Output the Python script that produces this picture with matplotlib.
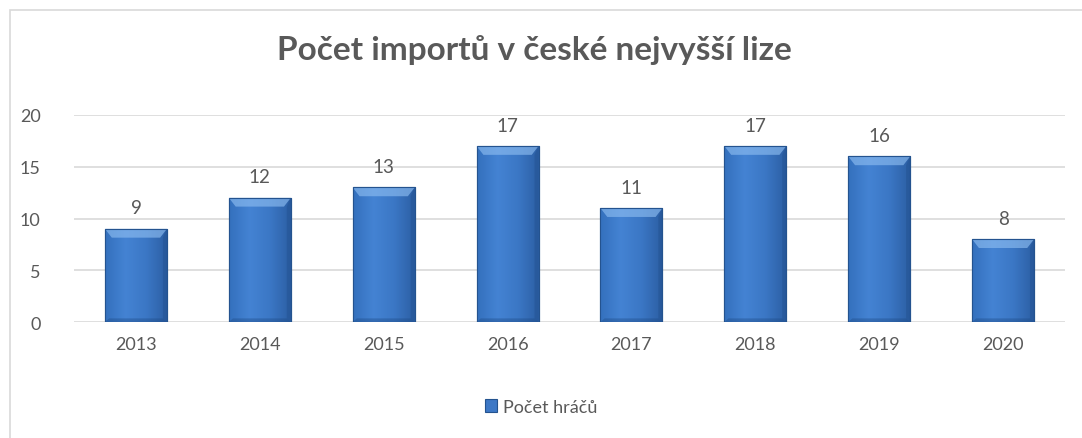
import matplotlib.pyplot as plt
import matplotlib.patches as patches
import numpy as np

years = ["2013", "2014", "2015", "2016", "2017", "2018", "2019", "2020"]
players = [9, 12, 13, 17, 11, 17, 16, 8]

plt.rcParams['font.family'] = ['Lato', 'DejaVu Sans']
grey = "#595959"

fig = plt.figure(figsize=(10.82, 4.39), dpi=100)
ax = fig.add_axes([0.0684, 0.2642, 0.9159, 0.4716])

x = np.arange(len(years))
width = 0.5
bars = ax.bar(x, players, width=width, color="#3d78c6", edgecolor="#24538f",
              linewidth=0.8, zorder=2, label="Počet hráčů")

# horizontal gradient + bevel, like the Excel style
grad = np.linspace(0, 1, 256).reshape(1, -1)
cmap = plt.matplotlib.colors.LinearSegmentedColormap.from_list(
    "b", ["#3470bd", "#4483d3", "#3b77c5", "#2c5fa4"])
for b in bars:
    x0, w, h = b.get_x(), b.get_width(), b.get_height()
    im = ax.imshow(grad, extent=[x0, x0 + w, 0, h], aspect="auto", cmap=cmap, zorder=2.1)
    im.set_clip_path(b)
    bx = w * 0.11
    by = 0.85
    sy = 0.35
    top = patches.Polygon([[x0, h], [x0 + w, h], [x0 + w - bx, h - by], [x0 + bx, h - by]],
                          closed=True, facecolor="#8cbcf0", alpha=0.65, lw=0, zorder=2.2)
    ax.add_patch(top)
    right = patches.Polygon([[x0 + w, h], [x0 + w, 0], [x0 + w - bx * 0.6, sy], [x0 + w - bx * 0.6, h - by]],
                            closed=True, facecolor="#1d4a85", alpha=0.3, lw=0, zorder=2.2)
    ax.add_patch(right)
    bottom = patches.Polygon([[x0, 0], [x0 + w, 0], [x0 + w - bx * 0.6, sy], [x0 + bx * 0.6, sy]],
                             closed=True, facecolor="#1d4a85", alpha=0.4, lw=0, zorder=2.2)
    ax.add_patch(bottom)
    edge = patches.Rectangle((x0, 0), w, h, fill=False, edgecolor="#24538f", lw=0.8, zorder=2.3)
    ax.add_patch(edge)
    ax.text(x0 + w / 2, h + 1.2, str(int(h)), ha="center", va="bottom", fontsize=13.5, color=grey)

ax.set_xlim(-0.5, len(years) - 0.5)
ax.set_ylim(0, 20)
ax.set_yticks([0, 5, 10, 15, 20])
ax.set_xticks(x)
ax.set_xticklabels(years)
ax.tick_params(axis="both", length=0, labelsize=13, labelcolor=grey)
ax.tick_params(axis="y", pad=24)
ax.tick_params(axis="x", pad=10)
ax.grid(axis="y", color="#d9d9d9", linewidth=1.2, zorder=0)
ax.set_axisbelow(True)
for s in ax.spines.values():
    s.set_visible(False)

fig.text(0.494, 0.885, "Počet importů v české nejvyšší lize", ha="center", va="center",
         fontsize=24, fontweight="bold", color=grey)

leg = fig.legend(handles=[bars], labels=["Počet hráčů"], loc="center", bbox_to_anchor=(0.5, 0.071),
                 frameon=False, fontsize=13, handlelength=0.7, handleheight=0.7, handletextpad=0.3)
for t in leg.get_texts():
    t.set_color(grey)

# outer chart border (only top and left visible in the crop)
fig.patches.append(patches.Rectangle((10 / 1082, -20 / 439), 1100 / 1082, 448 / 439,
                                     transform=fig.transFigure, fill=False,
                                     edgecolor="#d9d9d9", linewidth=1.2))

fig.savefig("out.png", dpi=100)
